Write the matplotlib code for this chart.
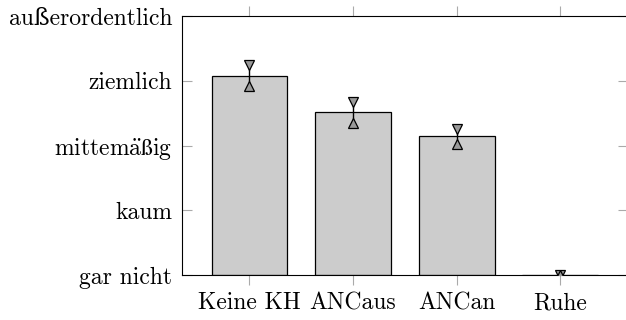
import numpy as np
import matplotlib
matplotlib.use('Agg')
import matplotlib.pyplot as plt

# ------------------- data -------------------
conditions = ['Keine KH', 'ANCaus', 'ANCan', 'Ruhe']
ratings = [3.08, 2.51, 2.14, 0.0]
rating_err = [0.165, 0.167, 0.11, 0.0]
# cmr10 has no ä, so that word goes through mathtext (same Computer Modern face)
level_labels = ['gar nicht', 'kaum', r'mittem$\mathrm{\ddot{a}}$$\mathrm{\ss}$ig',
                'ziemlich', 'außerordentlich']

plt.rcParams['font.family'] = ['cmr10', 'DejaVu Serif']
plt.rcParams['mathtext.fontset'] = 'cm'
plt.rcParams['font.size'] = 17

W, H = 626, 320
fig = plt.figure(figsize=(W / 100, H / 100), dpi=100)
ax = fig.add_axes([182 / W, 45 / H, (627.7 - 182) / W, 259 / H])

x = np.arange(len(conditions))
ax.bar(x, ratings, width=0.73, color='#cccccc', edgecolor='black', linewidth=0.9, zorder=2)

# error bars with triangle caps (clipped at the axis)
lo = np.array(ratings) - rating_err
hi = np.array(ratings) + rating_err
ax.vlines(x, lo, hi, color='black', lw=1.0, zorder=3)
ax.plot(x, hi, linestyle='none', marker='v', ms=7,
        mfc='#999999', mec='black', mew=0.9, zorder=4)
ax.plot(x, lo, linestyle='none', marker='^', ms=7,
        mfc='#999999', mec='black', mew=0.9, zorder=4)

ax.set_xlim(-0.65, 3.65)
ax.set_ylim(0, 4)
ax.set_xticks(x)
ax.set_xticklabels(conditions)
ax.set_yticks(range(len(level_labels)))
ax.set_yticklabels(level_labels)

ax.tick_params(axis='x', direction='out', length=7.2, width=0.8, color='#aaaaaa',
               top=True, bottom=True, pad=5)
ax.tick_params(axis='y', direction='in', length=7.2, width=0.8, color='#aaaaaa',
               left=True, right=True, pad=7)
for s in ax.spines.values():
    s.set_linewidth(0.8)
    s.set_color('black')

fig.savefig('out.png', dpi=100)
